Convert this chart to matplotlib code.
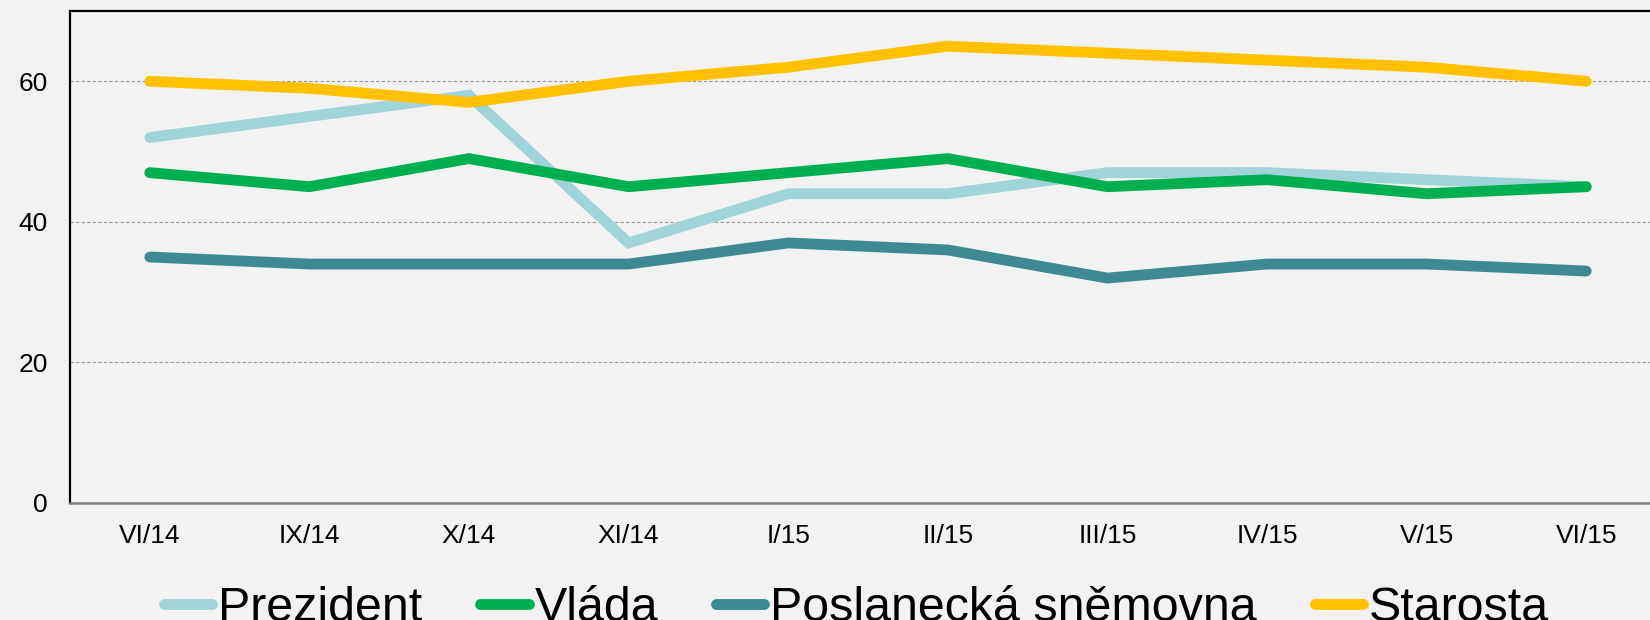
import matplotlib
matplotlib.use("Agg")
import matplotlib.pyplot as plt

categories = ["VI/14", "IX/14", "X/14", "XI/14", "I/15", "II/15", "III/15", "IV/15", "V/15", "VI/15"]
prezident = [52, 55, 58, 37, 44, 44, 47, 47, 46, 45]
vlada = [47, 45, 49, 45, 47, 49, 45, 46, 44, 45]
poslanecka = [35, 34, 34, 34, 37, 36, 32, 34, 34, 33]
starosta = [60, 59, 57, 60, 62, 65, 64, 63, 62, 60]
series_names = ["Prezident", "Vláda", "Poslanecká sněmovna", "Starosta"]
series_colors = ["#A1D4D8", "#00B050", "#3E8A92", "#FFC000"]
yticks = [0, 20, 40, 60]

plt.rcParams['font.family'] = ['Liberation Sans', 'DejaVu Sans']

W, H = 1650, 620
fig = plt.figure(figsize=(W / 100, H / 100), dpi=100)
fig.patch.set_facecolor("#F2F2F2")
left, right, top, bottom = 70, 1666, 11, 503
ax = fig.add_axes([left / W, 1 - bottom / H, (right - left) / W, (bottom - top) / H])
ax.set_facecolor("#F2F2F2")

x = list(range(len(categories)))
for vals, name, col in zip([prezident, vlada, poslanecka, starosta], series_names, series_colors):
    ax.plot(x, vals, color=col, lw=7.8, label=name, solid_capstyle="round",
            solid_joinstyle="miter", zorder=3)

ax.set_xlim(-0.5, len(categories) - 0.5)
ax.set_ylim(0, 70)
ax.set_yticks(yticks)
ax.set_xticks(x)
ax.set_xticklabels(categories)
ax.tick_params(axis="both", length=0, labelsize=19, colors="black")
ax.tick_params(axis="y", pad=16)
ax.tick_params(axis="x", pad=15)

ax.grid(axis="y", color="#999999", lw=0.8, linestyle=(0, (3, 2)), zorder=1)
ax.set_axisbelow(True)

ax.spines["left"].set_color("black")
ax.spines["left"].set_linewidth(1.6)
ax.spines["top"].set_color("black")
ax.spines["top"].set_linewidth(1.6)
ax.spines["bottom"].set_color("#808080")
ax.spines["bottom"].set_linewidth(1.8)
ax.spines["right"].set_visible(False)

fig.legend(loc="lower left", bbox_to_anchor=(164 / W, -11 / H), ncol=4, frameon=False,
           fontsize=34.8, handlelength=1.0, handletextpad=0.12, columnspacing=1.2,
           borderpad=0, borderaxespad=0)

fig.savefig("out.png", dpi=100, facecolor=fig.get_facecolor())
